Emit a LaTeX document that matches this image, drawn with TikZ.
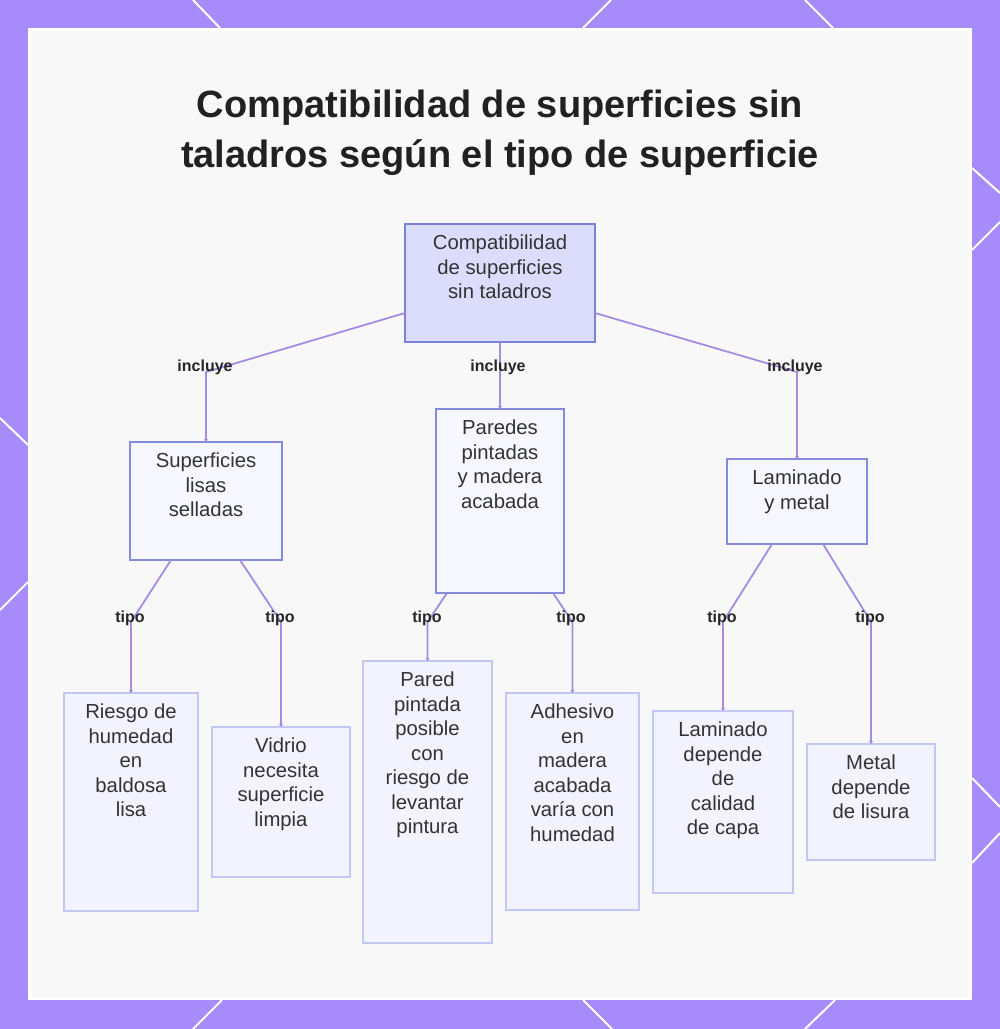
\documentclass[tikz,border=0pt]{standalone}
\usepackage{fontspec}
\setmainfont{Liberation Sans}
\usetikzlibrary{arrows.meta}
\definecolor{framec}{HTML}{A78BFA}
\definecolor{panelc}{HTML}{F8F8F8}
\definecolor{rootfill}{HTML}{DCDDFC}
\definecolor{rootdraw}{HTML}{7C82D8}
\definecolor{midfill}{HTML}{F6F7FF}
\definecolor{middraw}{HTML}{858CDB}
\definecolor{leaffill}{HTML}{F2F3FE}
\definecolor{leafdraw}{HTML}{C3C7F3}
\definecolor{textc}{HTML}{333333}
\definecolor{connc}{HTML}{A68BE3}
\begin{document}
\begin{tikzpicture}[x=1pt,y=-1pt,
  boxbase/.style={rectangle,anchor=north west,inner sep=0pt,outer sep=0pt,line width=1.5pt},
  rootbox/.style={boxbase,fill=rootfill,draw=rootdraw},
  midbox/.style={boxbase,fill=midfill,draw=middraw},
  leafbox/.style={boxbase,fill=leaffill,draw=leafdraw},
  txt/.style={anchor=north,yshift=-11pt,align=center,inner sep=0pt,text=textc,font=\fontsize{20.3}{24.5}\selectfont},
  lab/.style={inner sep=0pt,text=black!85,font=\fontsize{16}{19}\selectfont\bfseries},
  conn/.style={draw=connc,line width=1.8pt,-{Stealth[length=3pt,width=4pt]}},
  deco/.style={draw=white,line width=2pt}
]
\useasboundingbox (0,0) rectangle (1000,1029);
\fill[framec] (0,0) rectangle (1000,1029);
\draw[deco] (193,0) -- (220,28);
\draw[deco] (583,28) -- (611,0);
\draw[deco] (805,0) -- (833,28);
\draw[deco] (972,168) -- (1000,193);
\draw[deco] (972,250) -- (1000,222);
\draw[deco] (972,778) -- (1000,807);
\draw[deco] (972,863) -- (1000,833);
\draw[deco] (0,418) -- (28,445);
\draw[deco] (28,582) -- (0,610);
\draw[deco] (193,1029) -- (222,1000);
\draw[deco] (583,1000) -- (612,1029);
\draw[deco] (835,1000) -- (805,1029);
\fill[white] (28,28) rectangle (972,1000);
\fill[panelc] (31,31) rectangle (969,997);

\node[anchor=north,align=center,inner sep=0pt,text=black!87,font=\fontsize{38}{50}\selectfont\bfseries] (title) at (500,90)
  {Compatibilidad de superficies sin\\taladros según el tipo de superficie};

\node[rootbox,minimum width=190pt,minimum height=118pt,label={[txt]north:Compatibilidad\\de superficies\\sin taladros}] (root) at (405,224) {};

\node[midbox,minimum width=152pt,minimum height=118pt,label={[txt]north:Superficies\\lisas\\selladas}] (A) at (130,442) {};
\node[midbox,minimum width=128pt,minimum height=184pt,label={[txt]north:Paredes\\pintadas\\y madera\\acabada}] (B) at (436,409) {};
\node[midbox,minimum width=140pt,minimum height=85pt,label={[txt]north:Laminado\\y metal}] (C) at (727,459) {};

\node[leafbox,minimum width=134pt,minimum height=218pt,label={[txt]north:Riesgo de\\humedad\\en\\baldosa\\lisa}] (L1) at (64,693) {};
\node[leafbox,minimum width=138pt,minimum height=150pt,label={[txt]north:Vidrio\\necesita\\superficie\\limpia}] (L2) at (212,727) {};
\node[leafbox,minimum width=129pt,minimum height=282pt,label={[txt]north:Pared\\pintada\\posible\\con\\riesgo de\\levantar\\pintura}] (L3) at (363,661) {};
\node[leafbox,minimum width=133pt,minimum height=217pt,label={[txt]north:Adhesivo\\en\\madera\\acabada\\varía con\\humedad}] (L4) at (506,693) {};
\node[leafbox,minimum width=140pt,minimum height=182pt,label={[txt]north:Laminado\\depende\\de\\calidad\\de capa}] (L5) at (653,711) {};
\node[leafbox,minimum width=128pt,minimum height=116pt,label={[txt]north:Metal\\depende\\de lisura}] (L6) at (807,744) {};

\coordinate (b1) at (206,372);
\coordinate (b2) at (500,372);
\coordinate (b3) at (797,372);
\coordinate (c1) at (131,622);
\coordinate (c2) at (281,622);
\coordinate (c3) at (427.5,622);
\coordinate (c4) at (572.5,622);
\coordinate (c5) at (723,622);
\coordinate (c6) at (871,622);

\draw[conn] ([yshift=29pt]root.south west) -- (b1) -- (A.north);
\draw[conn] (root.south) -- (B.north);
\draw[conn] ([yshift=29pt]root.south east) -- (b3) -- (C.north);
\draw[conn] ([xshift=-35pt]A.south) -- (c1) -- (L1.north);
\draw[conn] ([xshift=34pt]A.south) -- (c2) -- (L2.north);
\draw[conn] ([xshift=-53pt]B.south) -- (c3) -- (L3.north);
\draw[conn] ([xshift=53pt]B.south) -- (c4) -- (L4.north);
\draw[conn] ([xshift=-25pt]C.south) -- (c5) -- (L5.north);
\draw[conn] ([xshift=26pt]C.south) -- (c6) -- (L6.north);

\node[lab] (i1) at (205,367) {incluye};
\node[lab] (i2) at (498,367) {incluye};
\node[lab] (i3) at (795,367) {incluye};
\node[lab] (t1) at (130,618) {tipo};
\node[lab] (t2) at (280,618) {tipo};
\node[lab] (t3) at (427,618) {tipo};
\node[lab] (t4) at (571,618) {tipo};
\node[lab] (t5) at (722,618) {tipo};
\node[lab] (t6) at (870,618) {tipo};
\end{tikzpicture}
\end{document}
